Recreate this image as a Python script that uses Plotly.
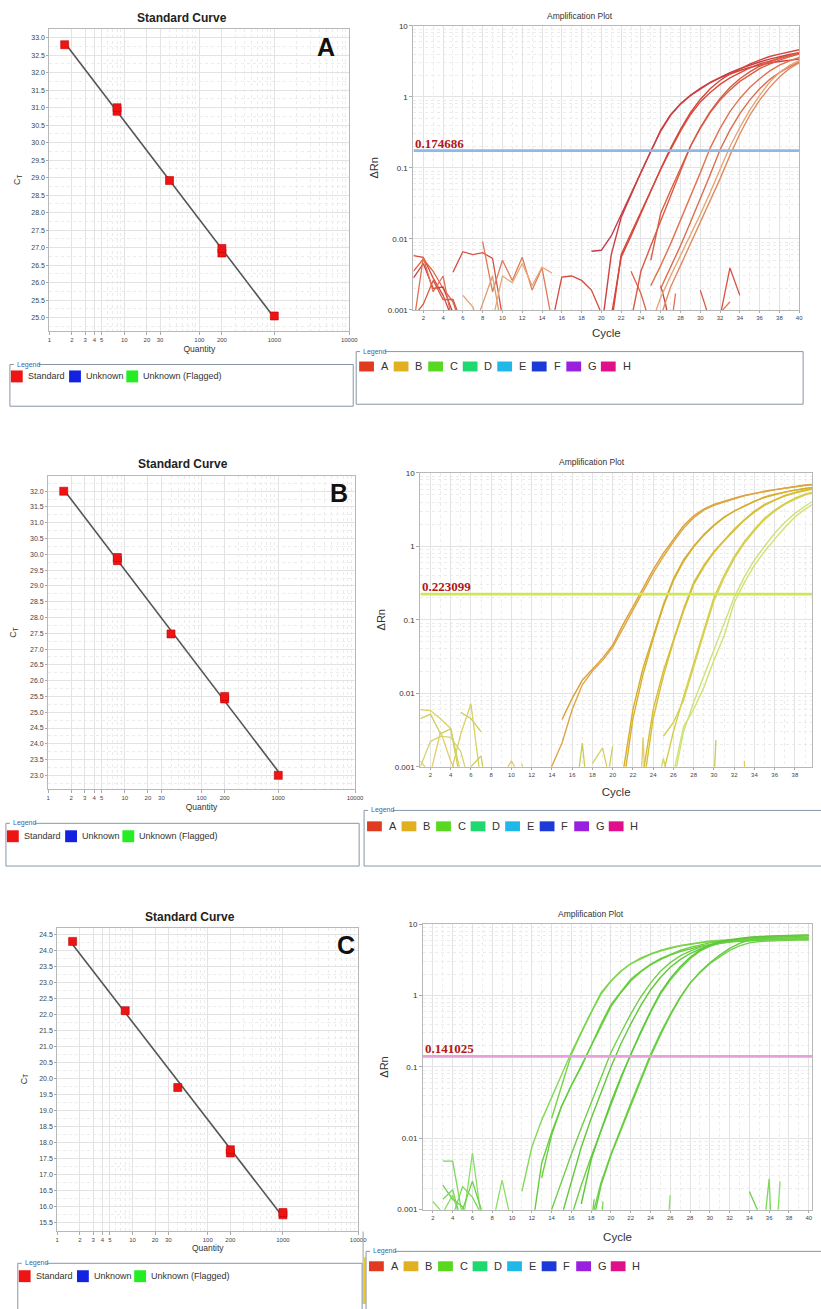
import numpy as np
import plotly.graph_objects as go

W, H = 821, 1309
FONT = "Liberation Sans, Arial, sans-serif"
SERIF = "Liberation Serif, Times New Roman, serif"

# ---------------- data ----------------
SC_QTY_A = [1.6, 8, 8, 40, 200, 200, 1000]
SC_CT_A = [32.8, 30.9, 31.0, 28.92, 26.85, 26.98, 25.05]
SC_QTY_B = [1.6, 8, 8, 40, 200, 200, 1000]
SC_CT_B = [32.0, 29.8, 29.9, 27.48, 25.42, 25.5, 23.0]
SC_QTY_C = [1.6, 8, 40, 200, 200, 1000, 1000]
SC_CT_C = [24.28, 22.12, 19.72, 17.68, 17.78, 15.75, 15.82]

SC_XTICK_VALS = [1, 2, 3, 4, 5, 10, 20, 30, 100, 200, 1000, 10000]
SC_XTICK_TEXT = ["1", "2", "3", "4", "5", "10", "20", "30", "100", "200", "1000", "10000"]
AMP_YTICK_VALS = [0.001, 0.01, 0.1, 1, 10]
AMP_YTICK_TEXT = ["0.001", "0.01", "0.1", "1", "10"]
AMP_XTICK_VALS = list(range(2, 41, 2))

THRESHOLDS = [0.174686, 0.223099, 0.141025]
THRESH_TEXT = ["0.174686", "0.223099", "0.141025"]

# amplification curves: (first cycle, dRn per cycle)
AMP_A = [
    (19, [0.0067, 0.0069, 0.011, 0.022, 0.045, 0.090, 0.18, 0.34, 0.56, 0.80, 1.05, 1.32, 1.6, 1.9, 2.2, 2.5, 2.8, 3.1, 3.4, 3.7, 3.95, 4.2]),
    (20, [0.0005, 0.006, 0.02, 0.042, 0.086, 0.17, 0.33, 0.55, 0.79, 1.04, 1.3, 1.58, 1.85, 2.1, 2.35, 2.6, 2.8, 3.0, 3.15, 3.3, 3.4]),
    (21, [0.0006, 0.006, 0.012, 0.024, 0.048, 0.095, 0.18, 0.33, 0.56, 0.85, 1.15, 1.5, 1.85, 2.2, 2.55, 2.9, 3.2, 3.5, 3.8, 4.1]),
    (21, [0.0008, 0.0055, 0.011, 0.023, 0.047, 0.097, 0.19, 0.35, 0.6, 0.92, 1.3, 1.7, 2.1, 2.5, 2.9, 3.3, 3.7, 4.0, 4.3, 4.6]),
    (25, [0.005, 0.023, 0.048, 0.099, 0.2, 0.36, 0.6, 0.9, 1.25, 1.65, 2.05, 2.5, 2.9, 3.3, 3.65, 4.0]),
    (23, [0.0007, 0.0035, 0.008, 0.018, 0.04, 0.088, 0.2, 0.37, 0.62, 0.95, 1.35, 1.8, 2.25, 2.7, 3.1, 3.5, 3.85, 4.2]),
    (25, [0.0022, 0.0042, 0.0085, 0.018, 0.038, 0.085, 0.19, 0.36, 0.62, 0.95, 1.35, 1.8, 2.3, 2.8, 3.2, 3.6]),
    (26, [0.002, 0.004, 0.008, 0.017, 0.036, 0.08, 0.18, 0.34, 0.58, 0.9, 1.3, 1.75, 2.2, 2.65, 3.1]),
    (26, [0.0008, 0.0021, 0.0042, 0.0085, 0.017, 0.035, 0.07, 0.15, 0.3, 0.55, 0.9, 1.35, 1.9, 2.5, 3.0]),
    (25, [0.0006, 0.0015, 0.003, 0.0058, 0.011, 0.022, 0.045, 0.095, 0.2, 0.37, 0.65, 1.05, 1.6, 2.2, 2.75, 3.25]),
]
AMP_B = [
    (15, [0.0044, 0.0085, 0.015, 0.021, 0.03, 0.045, 0.085, 0.15, 0.27, 0.48, 0.8, 1.25, 1.9, 2.6, 3.2, 3.7, 4.1, 4.5, 4.9, 5.3, 5.6, 5.9, 6.2, 6.5, 6.8, 7.0]),
    (13, [0.0005, 0.001, 0.0021, 0.006, 0.013, 0.02, 0.028, 0.042, 0.075, 0.135, 0.24, 0.43, 0.72, 1.15, 1.75, 2.45, 3.1, 3.6, 4.0, 4.45, 4.85, 5.2, 5.55, 5.85, 6.15, 6.45, 6.7, 6.9]),
    (21, [0.0008, 0.006, 0.022, 0.06, 0.16, 0.36, 0.65, 1.0, 1.45, 1.95, 2.5, 3.0, 3.5, 4.1, 4.7, 5.1, 5.5, 5.8, 6.1, 6.4]),
    (21, [0.0005, 0.0045, 0.018, 0.055, 0.15, 0.34, 0.62, 0.98, 1.4, 1.9, 2.45, 3.0, 3.55, 4.1, 4.6, 5.05, 5.45, 5.8, 6.1, 6.35]),
    (23, [0.0008, 0.006, 0.02, 0.055, 0.14, 0.32, 0.55, 0.85, 1.2, 1.7, 2.3, 3.0, 3.7, 4.3, 4.9, 5.4, 5.9, 6.3]),
    (23, [0.0005, 0.0045, 0.017, 0.05, 0.13, 0.3, 0.52, 0.82, 1.18, 1.65, 2.25, 2.9, 3.6, 4.2, 4.8, 5.3, 5.75, 6.1]),
    (25, [0.0008, 0.003, 0.009, 0.026, 0.075, 0.2, 0.4, 0.72, 1.15, 1.7, 2.4, 3.1, 3.8, 4.5, 5.1, 5.6]),
    (25, [0.0026, 0.004, 0.008, 0.022, 0.065, 0.18, 0.37, 0.68, 1.1, 1.62, 2.3, 3.0, 3.7, 4.35, 4.95, 5.45]),
    (26, [0.0008, 0.0035, 0.006, 0.012, 0.028, 0.06, 0.17, 0.32, 0.55, 0.85, 1.25, 1.8, 2.5, 3.2, 3.9]),
    (26, [0.0006, 0.003, 0.0075, 0.017, 0.038, 0.085, 0.2, 0.38, 0.65, 1.0, 1.5, 2.1, 2.8, 3.5, 4.3]),
]
AMP_C = [
    (11, [0.0018, 0.0075, 0.018, 0.037, 0.08, 0.16, 0.31, 0.6, 1.1, 1.6, 2.2, 2.8, 3.3, 3.8, 4.2, 4.6, 5.0, 5.3, 5.6, 5.85, 6.0, 6.1, 6.2, 6.3, 6.35, 6.4, 6.45, 6.5, 6.5, 6.5]),
    (14, [0.019, 0.055, 0.15, 0.3, 0.58, 1.05, 1.6, 2.2, 2.8, 3.35, 3.85, 4.3, 4.7, 5.0, 5.3, 5.5, 5.7, 5.8, 5.9, 6.0, 6.1, 6.15, 6.2, 6.25, 6.3, 6.3, 6.3]),
    (13, [0.0028, 0.011, 0.028, 0.055, 0.1, 0.2, 0.4, 0.75, 1.15, 1.7, 2.2, 2.75, 3.3, 3.8, 4.3, 4.75, 5.15, 5.5, 5.8, 6.05, 6.25, 6.4, 6.5, 6.6, 6.7, 6.75, 6.8, 6.85]),
    (12, [0.0005, 0.0045, 0.012, 0.028, 0.055, 0.105, 0.2, 0.38, 0.7, 1.1, 1.6, 2.15, 2.7, 3.2, 3.7, 4.15, 4.55, 4.9, 5.2, 5.45, 5.65, 5.8, 5.9, 6.0, 6.05, 6.1, 6.1, 6.1, 6.1]),
    (14, [0.001, 0.0025, 0.006, 0.014, 0.032, 0.07, 0.16, 0.3, 0.55, 0.95, 1.5, 2.2, 2.9, 3.6, 4.2, 4.75, 5.2, 5.55, 5.8, 6.0, 6.15, 6.25, 6.35, 6.4, 6.45, 6.5, 6.5]),
    (15, [0.0008, 0.0025, 0.0075, 0.019, 0.045, 0.1, 0.21, 0.4, 0.72, 1.2, 1.8, 2.5, 3.2, 3.9, 4.5, 5.05, 5.5, 5.9, 6.25, 6.5, 6.7, 6.85, 6.95, 7.0, 7.05, 7.1]),
    (16, [0.0008, 0.0022, 0.0055, 0.013, 0.03, 0.068, 0.15, 0.3, 0.58, 1.05, 1.65, 2.4, 3.3, 4.2, 4.9, 5.4, 5.7, 5.9, 6.0, 6.05, 6.1, 6.15, 6.2, 6.2, 6.2]),
    (17, [0.0012, 0.005, 0.013, 0.032, 0.072, 0.15, 0.31, 0.6, 1.1, 1.75, 2.55, 3.45, 4.35, 5.1, 5.7, 6.1, 6.4, 6.6, 6.75, 6.85, 6.9, 6.95, 7.0, 7.0]),
    (18, [0.0007, 0.0024, 0.006, 0.014, 0.031, 0.068, 0.15, 0.3, 0.55, 0.95, 1.5, 2.1, 2.8, 3.5, 4.3, 5.0, 5.5, 5.75, 5.85, 5.9, 5.95, 6.0, 6.0]),
    (18, [0.0005, 0.0022, 0.0058, 0.013, 0.029, 0.063, 0.14, 0.28, 0.53, 0.93, 1.5, 2.15, 2.9, 3.7, 4.6, 5.4, 6.0, 6.4, 6.6, 6.75, 6.85, 6.9, 6.95]),
]

# baseline noise traces: (cycles, dRn)
NOISE_A = [
    ([1, 2, 3, 4, 5], [0.0058, 0.0055, 0.0028, 0.0016, 0.0007]),
    ([1, 2, 3, 4, 5, 6], [0.0035, 0.0052, 0.0035, 0.002, 0.0013, 0.0005]),
    ([1, 2, 3, 4, 5], [0.0028, 0.0045, 0.002, 0.0021, 0.0009]),
    ([1, 2, 3, 4, 5], [0.0006, 0.0055, 0.0018, 0.003, 0.0006]),
    ([1, 2, 3, 4, 5, 6], [0.0008, 0.0012, 0.0026, 0.0014, 0.0014, 0.0006]),
    ([5, 6, 7, 8, 9, 10], [0.0034, 0.0066, 0.006, 0.0064, 0.0053, 0.0008]),
    ([8, 9, 10, 11, 12, 13, 14, 15], [0.0092, 0.0018, 0.005, 0.0026, 0.0055, 0.0019, 0.0039, 0.0007]),
    ([6, 7, 8], [0.0016, 0.0011, 0.0005]),
    ([7, 8, 9, 10], [0.0005, 0.0012, 0.003, 0.0005]),
    ([9, 10, 11, 12, 13, 14, 15], [0.0007, 0.003, 0.0024, 0.0045, 0.0022, 0.004, 0.0033]),
    ([15.3, 16, 17, 18, 19, 20], [0.001, 0.0029, 0.003, 0.0026, 0.0019, 0.0009]),
    ([23, 24, 25], [0.0035, 0.0017, 0.0006]),
    ([26, 26.5, 27], [0.0022, 0.0012, 0.0005]),
    ([27, 27.5], [0.0005, 0.0017]),
    ([30, 31], [0.0019, 0.0007]),
    ([32, 33, 34], [0.0008, 0.0039, 0.0016]),
    ([32, 33], [0.0009, 0.0013]),
]
NOISE_B = [
    ([1, 2, 3, 4, 5], [0.006, 0.0058, 0.0045, 0.0033, 0.0008]),
    ([1, 2, 3, 4, 5], [0.0045, 0.0052, 0.0028, 0.0033, 0.0006]),
    ([1, 2, 3, 4, 5], [0.0012, 0.0008, 0.003, 0.0012, 0.0006]),
    ([1, 2, 3, 4, 5, 6], [0.001, 0.0022, 0.0026, 0.0025, 0.0016, 0.0005]),
    ([5, 6, 7], [0.0055, 0.0045, 0.003]),
    ([4, 5, 6, 7], [0.0008, 0.0028, 0.0072, 0.0006]),
    ([6, 7, 7.5], [0.001, 0.0014, 0.0005]),
    ([9, 10, 10.5], [0.0007, 0.0012, 0.0009]),
    ([11, 11.5], [0.0011, 0.0007]),
    ([16.5, 17, 17.4], [0.0006, 0.0021, 0.0006]),
    ([18, 19, 19.5], [0.0011, 0.0018, 0.0009]),
    ([19.5, 20], [0.0007, 0.0019]),
    ([22.8, 23, 23.2], [0.0006, 0.0025, 0.0006]),
    ([24.5, 25, 25.5], [0.0006, 0.0013, 0.0007]),
    ([30, 30.2], [0.0006, 0.0023]),
    ([33, 33.1], [0.0012, 0.0007]),
]
NOISE_C = [
    ([3, 4, 5], [0.0048, 0.0048, 0.0008]),
    ([2, 3, 4, 5], [0.0013, 0.0009, 0.0016, 0.0006]),
    ([3, 4, 5, 6], [0.0022, 0.0014, 0.0011, 0.0005]),
    ([3, 4, 5], [0.0014, 0.0019, 0.0006]),
    ([5, 6, 7], [0.0006, 0.0062, 0.0006]),
    ([5, 6, 7], [0.001, 0.0025, 0.0009]),
    ([4, 5, 6, 7], [0.0008, 0.0021, 0.0015, 0.0008]),
    ([8, 9, 10], [0.0006, 0.0026, 0.0006]),
    ([18, 18.3], [0.0006, 0.0014]),
    ([19, 19.2], [0.0006, 0.0013]),
    ([25.8, 26], [0.0007, 0.0016]),
    ([34, 35, 35.5], [0.0018, 0.0009, 0.0006]),
    ([35.5, 36, 36.2], [0.0006, 0.0027, 0.0006]),
    ([36.8, 37.1], [0.0006, 0.0025]),
]

SC_LEG_LABELS = ["Standard", "Unknown", "Unknown (Flagged)"]
AMP_LEG_LABELS = ["A", "B", "C", "D", "E", "F", "G", "H"]

# ---------------- styles ----------------
COL_A = ['#c23c4c', '#cc4040', '#d84a3c', '#d4463a', '#dc5c44', '#d85a44', '#e07250', '#dc6c4c', '#e08c62', '#e8a476']
COL_B = ['#daa03a', '#dea644', '#d8ae28', '#d6b032', '#d8bc34', '#d6c03a', '#d8cc44', '#d4d052', '#d4e070', '#cce27e']
COL_C = ['#84d858', '#78d448', '#6cd040', '#66cc3c', '#70d048', '#62c83a', '#6ad044', '#5cc838', '#72d24c', '#66cc40']
NOISE_COL_A = ['#d84a3c', '#e06048', '#c84040', '#e07050', '#d85a44', '#d85040', '#e07a58', '#e8a070', '#e09a6c', '#e8a878']
NOISE_COL_B = ['#d8d060', '#ccd058', '#e0cc68', '#d4d470', '#c8cc50']
NOISE_COL_C = ['#7ad858', '#88e060', '#70d04c']
THRESH_COL = ['#8fb8e4', '#cfe65a', '#e6a0dc']
SC_LEG_COLORS = ['#ee1414', '#1222e0', '#22ee22']
AMP_LEG_COLORS = ['#e03a20', '#e0b020', '#58d820', '#20d870', '#20b8e8', '#1c3ad8', '#9a20e0', '#e0108a']

GRID = '#e3e3e3'
MINOR_GRID = '#ececec'
BORDER = '#b8b8b8'


def xd(l, r):
    return [l / W, min(r / W, 1.0)]


def yd(t, b):
    return [1 - b / H, 1 - t / H]


def P(px, py):
    return px / W, 1 - py / H


fig = go.Figure()
layout = dict(width=W, height=H, margin=dict(l=0, r=0, t=0, b=0),
              paper_bgcolor='white', plot_bgcolor='white', showlegend=False,
              font=dict(family=FONT, color='#333'))
annotations = []
shapes = []

# ---------- standard-curve panels ----------
SC_PANELS = [
    dict(q=SC_QTY_A, ct=SC_CT_A, box=(48, 352, 25, 329.3), yr=[24.62, 33.255], stand=9, xst=3),
    dict(q=SC_QTY_B, ct=SC_CT_B, box=(46.7, 357.8, 475, 790.7), yr=[22.56, 32.49], stand=11, xst=3),
    dict(q=SC_QTY_C, ct=SC_CT_C, box=(56, 361, 930, 1235), yr=[15.26, 24.71], stand=10, xst=3),
]
sc_minor = [m * 10 ** k for k in range(0, 4) for m in range(2, 10)]
for i, pnl in enumerate(SC_PANELS):
    n = 1 + i
    xs = 'x' if n == 1 else f'x{n}'
    ys = 'y' if n == 1 else f'y{n}'
    l, r, t, b = pnl['box']
    layout['xaxis' if n == 1 else f'xaxis{n}'] = dict(
        domain=xd(l, r), type='log', range=[0, 4], anchor=ys,
        tickvals=SC_XTICK_VALS, ticktext=SC_XTICK_TEXT, tickfont=dict(size=6, color='#444'),
        ticks='outside', ticklen=3, tickcolor='#aaa',
        title=dict(text='Quantity', font=dict(size=8.5, color='#333'), standoff=pnl['xst']),
        showgrid=True, gridcolor=GRID, gridwidth=1,
        minor=dict(tickvals=sc_minor, showgrid=True, gridcolor=MINOR_GRID, griddash='dot', ticks=''),
        showline=True, mirror=True, linecolor=BORDER, linewidth=1, zeroline=False)
    layout['yaxis' if n == 1 else f'yaxis{n}'] = dict(
        domain=yd(t, b), range=pnl['yr'], anchor=xs, dtick=0.5, tick0=0, tickformat='.1f',
        tickfont=dict(size=7, color='#444'), ticks='outside', ticklen=2, tickcolor='#aaa',
        title=dict(text='C<sub>T</sub>', font=dict(size=9, color='#333'), standoff=pnl['stand']),
        showgrid=True, gridcolor=GRID, gridwidth=1,
        minor=dict(dtick=0.25, tick0=0, showgrid=True, gridcolor=MINOR_GRID, griddash='dot', ticks=''),
        showline=True, mirror=True, linecolor=BORDER, linewidth=1, zeroline=False)
    lq = np.log10(pnl['q'])
    k, c0 = np.polyfit(lq, pnl['ct'], 1)
    qline = np.array([min(pnl['q']), max(pnl['q'])])
    fig.add_trace(go.Scatter(x=qline, y=k * np.log10(qline) + c0, mode='lines',
                             line=dict(color='#555555', width=1.6), xaxis=xs, yaxis=ys, hoverinfo='skip'))
    fig.add_trace(go.Scatter(x=pnl['q'], y=pnl['ct'], mode='markers',
                             marker=dict(symbol='square', size=8, color='#ee1414',
                                         line=dict(color='#c00000', width=0.6)),
                             xaxis=xs, yaxis=ys, hoverinfo='skip'))

# ---------- amplification panels ----------
AMP_PANELS = [
    dict(curves=AMP_A, cols=COL_A, noise=NOISE_A, ncol=NOISE_COL_A, box=(417, 808, 22, 308), xr=[1, 40], cst=8),
    dict(curves=AMP_B, cols=COL_B, noise=NOISE_B, ncol=NOISE_COL_B, box=(424, 821, 472, 768), xr=[1, 39.69], cst=11),
    dict(curves=AMP_C, cols=COL_C, noise=NOISE_C, ncol=NOISE_COL_C, box=(426.7, 821, 926.7, 1214), xr=[1, 40.33], cst=13),
]
amp_minor_y = [m * 10 ** k for k in range(-3, 1) for m in range(2, 10)]
for i, pnl in enumerate(AMP_PANELS):
    n = 4 + i
    xs, ys = f'x{n}', f'y{n}'
    l, r, t, b = pnl['box']
    layout[f'xaxis{n}'] = dict(
        domain=xd(l, r), range=pnl['xr'], anchor=ys, tickvals=AMP_XTICK_VALS,
        tickfont=dict(size=6, color='#444'), ticks='outside', ticklen=2, tickcolor='#aaa',
        title=dict(text='Cycle', font=dict(size=11.5, color='#333'), standoff=pnl['cst']),
        showgrid=True, gridcolor=GRID, gridwidth=1,
        minor=dict(dtick=1, tick0=1, showgrid=True, gridcolor=MINOR_GRID, griddash='dot', ticks=''),
        showline=True, mirror=True, linecolor=BORDER, linewidth=1, zeroline=False)
    layout[f'yaxis{n}'] = dict(
        domain=yd(t, b), type='log', range=[-3, 1], anchor=xs,
        tickvals=AMP_YTICK_VALS, ticktext=AMP_YTICK_TEXT, tickfont=dict(size=8, color='#333'),
        ticks='outside', ticklen=3, tickcolor='#aaa',
        title=dict(text='ΔRn', font=dict(size=11, color='#333'), standoff=6),
        showgrid=True, gridcolor=GRID, gridwidth=1,
        minor=dict(tickvals=amp_minor_y, showgrid=True, gridcolor=MINOR_GRID, griddash='dot', ticks=''),
        showline=True, mirror=True, linecolor=BORDER, linewidth=1, zeroline=False)
    for j, (xn, yn) in enumerate(pnl['noise']):
        fig.add_trace(go.Scatter(x=xn, y=yn, mode='lines',
                                 line=dict(color=pnl['ncol'][j % len(pnl['ncol'])], width=1.3),
                                 xaxis=xs, yaxis=ys, hoverinfo='skip'))
    for j, (start, vals) in enumerate(pnl['curves']):
        cyc = list(range(start, start + len(vals)))
        fig.add_trace(go.Scatter(x=cyc, y=vals, mode='lines',
                                 line=dict(color=pnl['cols'][j], width=1.4),
                                 xaxis=xs, yaxis=ys, hoverinfo='skip'))
    th = THRESHOLDS[i]
    fig.add_trace(go.Scatter(x=pnl['xr'], y=[th, th], mode='lines',
                             line=dict(color=THRESH_COL[i], width=2.6),
                             xaxis=xs, yaxis=ys, hoverinfo='skip'))
    annotations.append(dict(text=f'<b>{THRESH_TEXT[i]}</b>', xref=f'{xs} domain', x=0.0,
                            yref=ys, y=float(np.log10(th)), xanchor='left', yanchor='bottom',
                            yshift=-2, showarrow=False,
                            font=dict(family=SERIF, size=13, color='#b01818')))


# ---------- text ----------
def ann(text, px, py, size, bold=False, color='#222', angle=0, xanchor='center', family=FONT):
    x, y = P(px, py)
    annotations.append(dict(text=f'<b>{text}</b>' if bold else text, x=x, y=y, xref='paper', yref='paper',
                            showarrow=False, textangle=angle, xanchor=xanchor, yanchor='middle',
                            font=dict(size=size, color=color, family=family)))


SC_TITLE_POS = [(182, 14), (183, 463), (191, 919)]
PANEL_LETTER_POS = [(328, 43), (342, 492), (349, 948)]
AMP_TITLE_POS = [(586, 12), (598, 461), (597, 916)]
for i, L in enumerate(["A", "B", "C"]):
    ann("Standard Curve", *SC_TITLE_POS[i], 12, bold=True)
    ann(L, *PANEL_LETTER_POS[i], 25, bold=True, color='#111')
    ann("Amplification Plot", *AMP_TITLE_POS[i], 8.5, color='#333')


# ---------- legend boxes ----------
def rect(x0, y0, x1, y1, fill=None, line='#8796a6', lw=1):
    a0, b0 = P(x0, y0)
    a1, b1 = P(x1, y1)
    shapes.append(dict(type='rect', xref='paper', yref='paper', x0=a0, y0=b1, x1=a1, y1=b0,
                       fillcolor=fill if fill else 'rgba(0,0,0,0)',
                       line=dict(color=line, width=lw if fill is None else 0)))


SC_BOX = [(8, 363, 356, 405), (4, 825, 362, 868), (16, 1268, 365, 1340)]
AMP_BOX = [(359, 350, 812, 403), (367, 812, 840, 868), (369, 1256, 840, 1340)]
SC_ITEM_Y = [375, 838, 1281]
AMP_ITEM_Y = [365, 828, 1271]
SC_ITEM_OFF = [1, 60, 118]


def legend_frame(x0, y0, x1, y1):
    rect(x0, y0, x1, y1)
    rect(x0 + 4, y0 - 2, x0 + 29, y0 + 2, fill='white')
    ann("Legend", x0 + 5, y0, 7, color='#3a64a8', xanchor='left')


for i in range(3):
    x0, y0, x1, y1 = SC_BOX[i]
    legend_frame(x0, y0, x1, y1)
    cy = SC_ITEM_Y[i]
    for k, lab in enumerate(SC_LEG_LABELS):
        sx = x0 + SC_ITEM_OFF[k]
        rect(sx, cy - 6, sx + 12, cy + 6, fill=SC_LEG_COLORS[k])
        ann(lab, sx + 15, cy, 9, color='#333', xanchor='left')
    x0, y0, x1, y1 = AMP_BOX[i]
    legend_frame(x0, y0, x1, y1)
    cy = AMP_ITEM_Y[i]
    for k, lab in enumerate(AMP_LEG_LABELS):
        sx = x0 + 3 + 35 * k
        rect(sx, cy - 5, sx + 15, cy + 5, fill=AMP_LEG_COLORS[k])
        ann(lab, sx + 20, cy, 11, color='#333', xanchor='left')

# small strips at the seam of the bottom panels
shapes.append(dict(type='line', xref='paper', yref='paper', x0=366 / W, x1=366 / W,
                   y0=1 - 1309 / H, y1=1 - 1236 / H, line=dict(color='#a0a0a0', width=1)))
shapes.append(dict(type='line', xref='paper', yref='paper', x0=368 / W, x1=368 / W,
                   y0=1 - 1309 / H, y1=1 - 1262 / H, line=dict(color='#e8c020', width=2)))

layout['annotations'] = annotations
layout['shapes'] = shapes
fig.update_layout(**layout)
fig.write_html("out.html")
